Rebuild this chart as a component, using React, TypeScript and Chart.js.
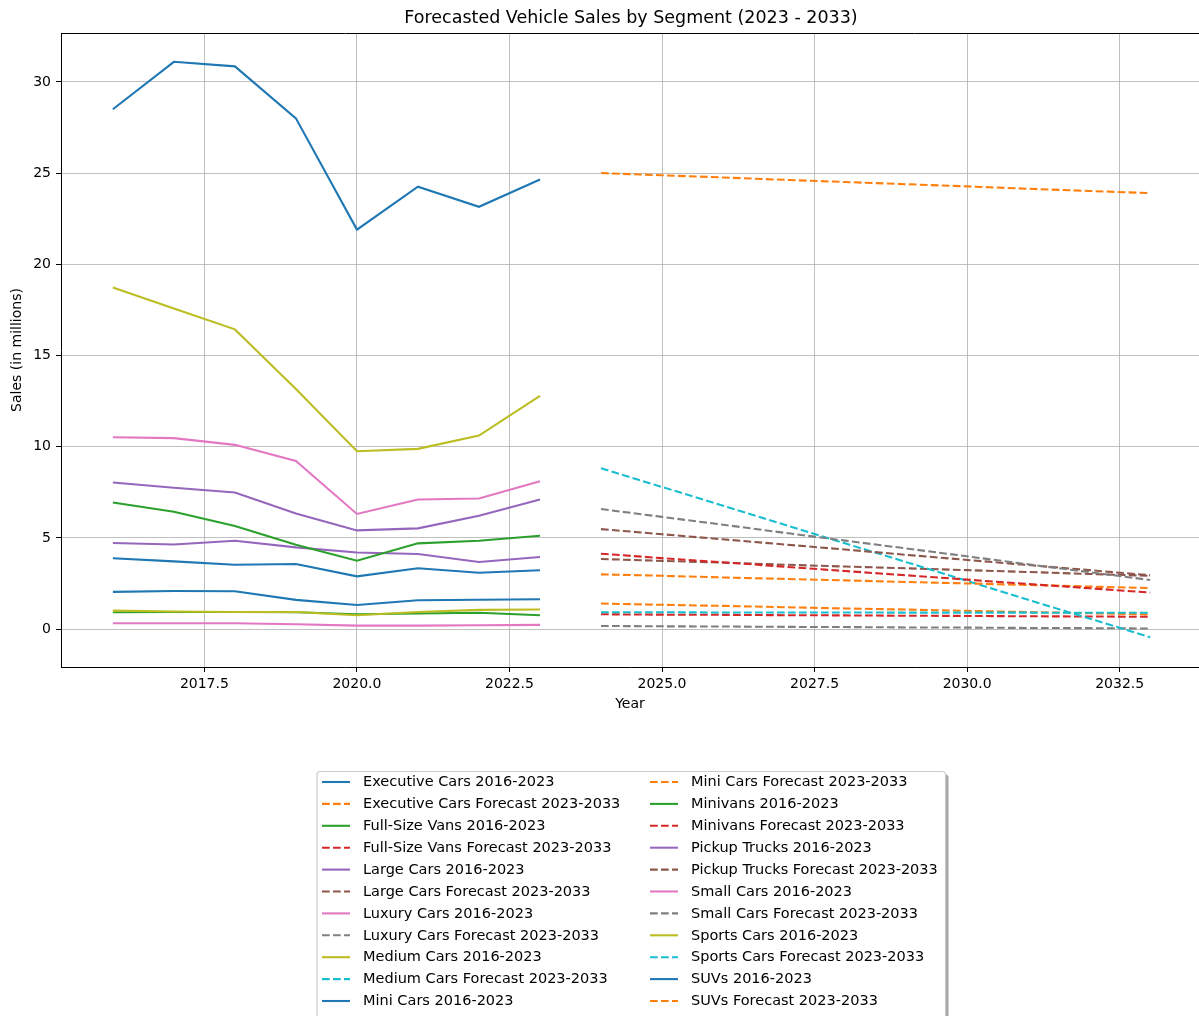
import React, { useEffect, useRef } from "react";
import { Chart, registerables } from "chart.js";

Chart.register(...registerables);

const TITLE = "Forecasted Vehicle Sales by Segment (2023 - 2033)";
const X_LABEL = "Year";
const Y_LABEL = "Sales (in millions)";

const histYears = [2016, 2017, 2018, 2019, 2020, 2021, 2022, 2023];
const forecastYears = [2024, 2025, 2026, 2027, 2028, 2029, 2030, 2031, 2032, 2033];

const segments = [
  "Executive Cars",
  "Full-Size Vans",
  "Large Cars",
  "Luxury Cars",
  "Medium Cars",
  "Mini Cars",
  "Minivans",
  "Pickup Trucks",
  "Small Cars",
  "Sports Cars",
  "SUVs",
];

// Historical sales 2016-2023 (millions)
const histExecutive = [2.04, 2.09, 2.07, 1.6, 1.32, 1.58, 1.61, 1.63];
const histFullSizeVans = [0.92, 0.94, 0.94, 0.92, 0.81, 0.85, 0.89, 0.76];
const histLarge = [4.72, 4.64, 4.84, 4.48, 4.2, 4.12, 3.68, 3.95];
const histLuxury = [0.32, 0.32, 0.32, 0.26, 0.19, 0.19, 0.21, 0.23];
const histMedium = [18.73, 17.58, 16.43, 13.16, 9.75, 9.88, 10.61, 12.78];
const histMini = [3.88, 3.71, 3.53, 3.57, 2.89, 3.33, 3.09, 3.22];
const histMinivans = [6.94, 6.43, 5.65, 4.62, 3.75, 4.7, 4.84, 5.12];
const histPickup = [8.04, 7.75, 7.49, 6.34, 5.41, 5.52, 6.21, 7.1];
const histSmall = [10.52, 10.47, 10.1, 9.22, 6.31, 7.1, 7.16, 8.11];
const histSports = [1.01, 0.96, 0.94, 0.94, 0.76, 0.94, 1.05, 1.07];
const histSUVs = [28.5, 31.1, 30.85, 28.0, 21.9, 24.25, 23.15, 24.65];

// Forecast sales 2024-2033 (millions)
const fcExecutive = [1.4, 1.33, 1.27, 1.2, 1.13, 1.07, 1.0, 0.93, 0.87, 0.8];
const fcFullSizeVans = [0.81, 0.79, 0.78, 0.76, 0.75, 0.73, 0.72, 0.7, 0.69, 0.67];
const fcLarge = [3.84, 3.74, 3.64, 3.53, 3.43, 3.33, 3.23, 3.13, 3.02, 2.92];
const fcLuxury = [0.17, 0.15, 0.14, 0.12, 0.11, 0.09, 0.08, 0.06, 0.05, 0.03];
const fcMedium = [8.82, 7.79, 6.76, 5.73, 4.7, 3.67, 2.64, 1.61, 0.58, -0.45];
const fcMini = [3.0, 2.92, 2.83, 2.75, 2.67, 2.58, 2.5, 2.42, 2.33, 2.25];
const fcMinivans = [4.13, 3.89, 3.66, 3.42, 3.18, 2.95, 2.71, 2.47, 2.24, 2.0];
const fcPickup = [5.48, 5.2, 4.92, 4.64, 4.36, 4.07, 3.79, 3.51, 3.23, 2.95];
const fcSmall = [6.58, 6.15, 5.72, 5.28, 4.85, 4.42, 3.99, 3.55, 3.12, 2.69];
const fcSports = [0.92, 0.92, 0.91, 0.91, 0.91, 0.9, 0.9, 0.9, 0.89, 0.89];
const fcSUVs = [25.0, 24.88, 24.76, 24.63, 24.51, 24.39, 24.27, 24.14, 24.02, 23.9];

const histSeries = [
  histExecutive, histFullSizeVans, histLarge, histLuxury, histMedium, histMini,
  histMinivans, histPickup, histSmall, histSports, histSUVs,
];
const forecastSeries = [
  fcExecutive, fcFullSizeVans, fcLarge, fcLuxury, fcMedium, fcMini,
  fcMinivans, fcPickup, fcSmall, fcSports, fcSUVs,
];

const xTicks = [2017.5, 2020, 2022.5, 2025, 2027.5, 2030, 2032.5];
const yTicks = [0, 5, 10, 15, 20, 25, 30];

const palette = [
  "#1f77b4", "#ff7f0e", "#2ca02c", "#d62728", "#9467bd",
  "#8c564b", "#e377c2", "#7f7f7f", "#bcbd22", "#17becf",
];

const FONT = '"DejaVu Sans", sans-serif';
const DASH = [7.7, 3.3];

const framePlugin = {
  id: "mplFrame",
  afterDraw(chart: any) {
    const { ctx, chartArea } = chart;
    ctx.save();
    // top spine
    ctx.strokeStyle = "#000";
    ctx.lineWidth = 1;
    ctx.beginPath();
    ctx.moveTo(chartArea.left, chartArea.top + 0.5);
    ctx.lineTo(chartArea.right, chartArea.top + 0.5);
    ctx.stroke();

    // title
    ctx.fillStyle = "#000";
    ctx.font = `17.5px ${FONT}`;
    ctx.textAlign = "center";
    ctx.textBaseline = "alphabetic";
    ctx.fillText(TITLE, 631, 23);

    // legend
    const L = 317, T = 771.5, R = 945.5, B = 1030, rad = 3;
    const roundRect = (x0: number, y0: number, x1: number, y1: number) => {
      ctx.beginPath();
      ctx.moveTo(x0 + rad, y0);
      ctx.lineTo(x1 - rad, y0);
      ctx.quadraticCurveTo(x1, y0, x1, y0 + rad);
      ctx.lineTo(x1, y1 - rad);
      ctx.quadraticCurveTo(x1, y1, x1 - rad, y1);
      ctx.lineTo(x0 + rad, y1);
      ctx.quadraticCurveTo(x0, y1, x0, y1 - rad);
      ctx.lineTo(x0, y0 + rad);
      ctx.quadraticCurveTo(x0, y0, x0 + rad, y0);
      ctx.closePath();
    };
    roundRect(L + 3, T + 3, R + 3, B + 3);
    ctx.fillStyle = "rgba(77,77,77,0.5)";
    ctx.fill();
    roundRect(L, T, R, B);
    ctx.fillStyle = "#fff";
    ctx.fill();
    ctx.strokeStyle = "#cccccc";
    ctx.lineWidth = 1.2;
    ctx.stroke();

    const ds = chart.data.datasets;
    const rows = 11;
    const colHandleX = [322, 650];
    const colTextX = [363, 691];
    ctx.font = `14.5px ${FONT}`;
    ctx.textAlign = "left";
    ctx.textBaseline = "middle";
    ds.forEach((d: any, i: number) => {
      const col = Math.floor(i / rows);
      const row = i % rows;
      const y = 782 + row * 21.9;
      ctx.strokeStyle = d.borderColor;
      ctx.lineWidth = 2.08;
      ctx.setLineDash(d.borderDash || []);
      ctx.beginPath();
      ctx.moveTo(colHandleX[col], y);
      ctx.lineTo(colHandleX[col] + 28, y);
      ctx.stroke();
      ctx.setLineDash([]);
      ctx.fillStyle = "#000";
      ctx.fillText(d.label, colTextX[col], y + 0.5);
    });
    ctx.restore();
  },
};

export default function App() {
  const ref = useRef<HTMLCanvasElement | null>(null);

  useEffect(() => {
    document.body.style.margin = "0";
    const canvas = ref.current;
    if (!canvas) return;

    const datasets: any[] = [];
    segments.forEach((seg, i) => {
      datasets.push({
        label: `${seg} 2016-2023`,
        data: histYears.map((x, k) => ({ x, y: histSeries[i][k] })),
        borderColor: palette[(2 * i) % 10],
        backgroundColor: palette[(2 * i) % 10],
        borderWidth: 2.08,
        pointRadius: 0,
        tension: 0,
        fill: false,
      });
      datasets.push({
        label: `${seg} Forecast 2023-2033`,
        data: forecastYears.map((x, k) => ({ x, y: forecastSeries[i][k] })),
        borderColor: palette[(2 * i + 1) % 10],
        backgroundColor: palette[(2 * i + 1) % 10],
        borderWidth: 2.08,
        borderDash: DASH,
        pointRadius: 0,
        tension: 0,
        fill: false,
      });
    });
    const n = datasets.length;
    datasets.forEach((d, i) => (d.order = n - i));

    const chart = new Chart(canvas, {
      type: "line",
      data: { datasets },
      options: {
        animation: false,
        responsive: false,
        devicePixelRatio: 1,
        layout: { padding: { top: 33, left: 0, right: 0, bottom: 299 } },
        plugins: {
          legend: { display: false },
          title: { display: false },
          tooltip: { enabled: false },
        },
        scales: {
          x: {
            type: "linear",
            min: 2015.15,
            max: 2033.8,
            afterBuildTicks: (scale: any) => {
              scale.ticks = xTicks.map((v) => ({ value: v }));
            },
            afterFit: (scale: any) => {
              scale.height = 50;
            },
            ticks: {
              autoSkip: false,
              maxRotation: 0,
              padding: 4,
              color: "#000",
              font: { family: FONT, size: 14 },
              callback: (v: any) => Number(v).toFixed(1),
            },
            grid: {
              color: "#b0b0b0",
              lineWidth: 0.8,
              tickLength: 5,
              tickColor: "#000",
              tickWidth: 1,
            },
            border: { display: true, color: "#000", width: 1 },
            title: {
              display: true,
              text: X_LABEL,
              color: "#000",
              font: { family: FONT, size: 14 },
              padding: { top: 0, bottom: 4 },
            },
          },
          y: {
            type: "linear",
            min: -2.08,
            max: 32.68,
            afterBuildTicks: (scale: any) => {
              scale.ticks = yTicks.map((v) => ({ value: v }));
            },
            afterFit: (scale: any) => {
              scale.width = 61;
            },
            ticks: {
              autoSkip: false,
              padding: 5,
              color: "#000",
              font: { family: FONT, size: 14 },
              callback: (v: any) => String(v),
            },
            grid: {
              color: "#b0b0b0",
              lineWidth: 0.8,
              tickLength: 5,
              tickColor: "#000",
              tickWidth: 1,
            },
            border: { display: true, color: "#000", width: 1 },
            title: {
              display: true,
              text: Y_LABEL,
              color: "#000",
              font: { family: FONT, size: 14 },
              padding: { top: 9, bottom: 0 },
            },
          },
        },
      },
      plugins: [framePlugin],
    } as any);

    return () => chart.destroy();
  }, []);

  return (
    <div style={{ width: 1199, height: 1016, overflow: "hidden" }}>
      <canvas ref={ref} width={1199} height={1016} style={{ display: "block", width: 1199, height: 1016 }} />
    </div>
  );
}
